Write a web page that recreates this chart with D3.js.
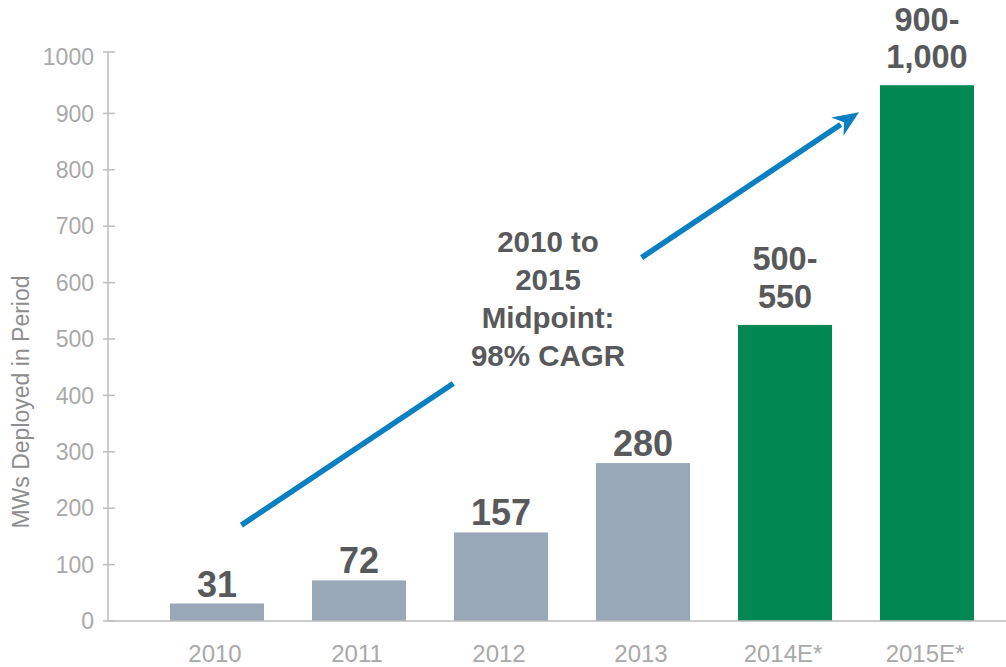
<!DOCTYPE html>
<html><head><meta charset="utf-8">
<script src="https://cdnjs.cloudflare.com/ajax/libs/d3/7.8.5/d3.min.js"></script>
<style>body{margin:0;background:#fff}svg{display:block}</style>
</head><body><svg id="c" width="1006" height="667"></svg>
<script>
const categories = ["2010","2011","2012","2013","2014E*","2015E*"];
const values = [31, 72, 157, 280, 525, 950];
const valueLabels = [["31"],["72"],["157"],["280"],["500-","550"],["900-","1,000"]];
const estimate = [false,false,false,false,true,true];
const yTicks = [0,100,200,300,400,500,600,700,800,900,1000];
const annotation = ["2010 to","2015","Midpoint:","98% CAGR"];
const arrowFrom = ["2010", 170];   // category, value
const arrowTo = ["2015E*", 902];

const svg = d3.select("#c");
const font = "'Liberation Sans', Arial, Helvetica, sans-serif";
const y = d3.scaleLinear().domain([0,1000]).range([621,57]);
const x = d3.scaleBand().domain(categories).range([146,998]).paddingInner(48/142).paddingOuter(24/142);
const axisX = 108;
const axisCol = "#bdbdbd", tickCol = "#a9a9a9", valCol = "#58595b";

// y axis
const ya = svg.append("g");
ya.append("line").attr("x1",axisX).attr("x2",axisX).attr("y1",y(1000)-5).attr("y2",y(0)).attr("stroke",axisCol).attr("stroke-width",1.5);
ya.append("line").attr("x1",axisX-5).attr("x2",axisX+7).attr("y1",y(1000)-5).attr("y2",y(1000)-5).attr("stroke",axisCol).attr("stroke-width",1.5);
yTicks.forEach(t=>{
  if(t!==1000) ya.append("line").attr("x1",axisX-5).attr("x2",axisX+7).attr("y1",y(t)).attr("y2",y(t)).attr("stroke",axisCol).attr("stroke-width",1.5);
  ya.append("text").attr("x",94).attr("y",y(t)).attr("dy","0.36em").attr("text-anchor","end")
    .attr("font-family",font).attr("font-size",23).attr("fill",tickCol).text(t);
});
svg.append("text").attr("transform","translate(29,402) rotate(-90)").attr("text-anchor","middle")
  .attr("font-family",font).attr("font-size",23).attr("fill","#8d8d8d").text("MWs Deployed in Period");

// bars
svg.selectAll("rect.bar").data(categories).join("rect").attr("class","bar")
  .attr("x",d=>x(d)).attr("width",x.bandwidth())
  .attr("y",(d,i)=>y(values[i])).attr("height",(d,i)=>y(0)-y(values[i]))
  .attr("fill",(d,i)=>estimate[i]?"#008752":"#98a8b8");

// x axis
svg.append("line").attr("x1",axisX).attr("x2",1006).attr("y1",y(0)).attr("y2",y(0)).attr("stroke",axisCol).attr("stroke-width",1.5);
categories.forEach((c,i)=>{
  svg.append("text").attr("x",x(c)+x.bandwidth()/2-2).attr("y",662).attr("text-anchor","middle")
    .attr("font-family",font).attr("font-size",24).attr("fill",tickCol).text(c);
});

// value labels
categories.forEach((c,i)=>{
  const lines = valueLabels[i];
  const multi = lines.length>1;
  const off = multi ? 17 : 7;
  lines.forEach((l,j)=>{
    svg.append("text").attr("x",x(c)+x.bandwidth()/2).attr("y",y(values[i])-off-(lines.length-1-j)*37.5)
      .attr("text-anchor","middle").attr("font-family",font).attr("font-weight","bold")
      .attr("font-size",multi?32.5:36).attr("fill",valCol).text(l);
  });
});

// arrow
const x0 = x(arrowFrom[0])+x.bandwidth()*0.76, y0 = y(arrowFrom[1]);
const x1 = x(arrowTo[0])-21, y1 = y(arrowTo[1]);
const ang = Math.atan2(y1-y0,x1-x0);
const len = Math.hypot(x1-x0,y1-y0);
const pt = t=>[x0+(x1-x0)*t, y0+(y1-y0)*t];
const blue = "#0a7fc1";
const gapA = 0.343, gapB = 0.648, headLen = 26;
const endT = 1 - (headLen-4)/len;
[[0,gapA],[gapB,endT]].forEach(([a,b])=>{
  const p=pt(a), q=pt(b);
  svg.append("line").attr("x1",p[0]).attr("y1",p[1]).attr("x2",q[0]).attr("y2",q[1]).attr("stroke",blue).attr("stroke-width",5.5);
});
const hw = 11;
const bx = x1-headLen*Math.cos(ang), by = y1-headLen*Math.sin(ang);
const nx = -Math.sin(ang), ny = Math.cos(ang);
const notch = [x1-(headLen-8)*Math.cos(ang), y1-(headLen-8)*Math.sin(ang)];
svg.append("path").attr("d",`M${x1},${y1}L${bx+nx*hw},${by+ny*hw}L${notch[0]},${notch[1]}L${bx-nx*hw},${by-ny*hw}Z`).attr("fill",blue);

// annotation
annotation.forEach((l,i)=>{
  svg.append("text").attr("x",548).attr("y",252+i*38).attr("text-anchor","middle")
    .attr("font-family",font).attr("font-weight","bold").attr("font-size",29.5).attr("fill",valCol).text(l);
});
</script></body></html>
